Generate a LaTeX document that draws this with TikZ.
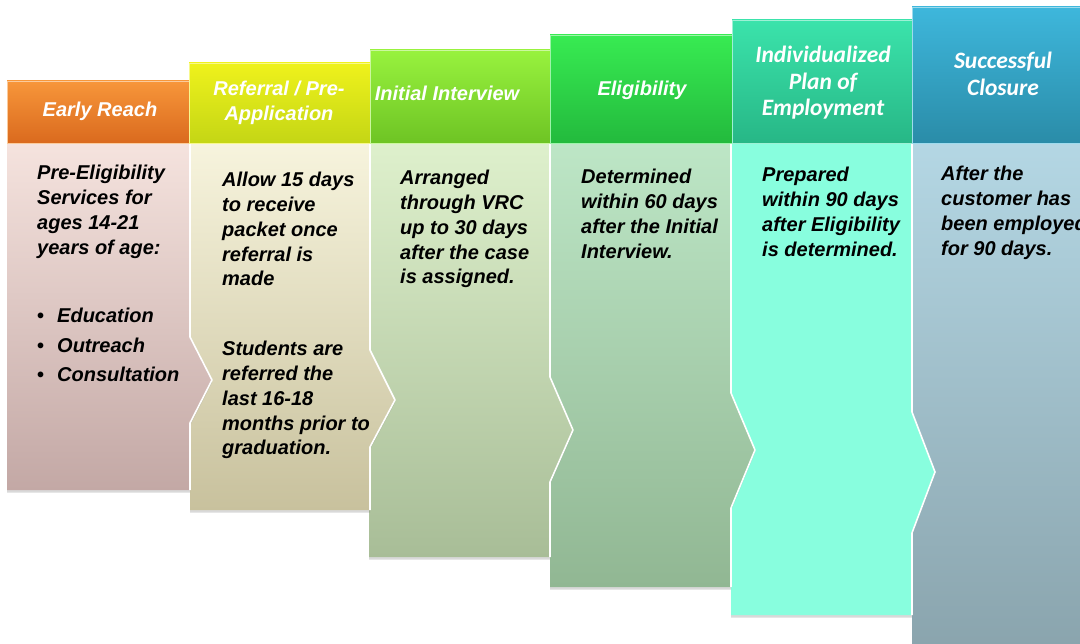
\documentclass[tikz,border=0pt]{standalone}
\usepackage{fontspec}
\usepackage{tikz}
\usepackage{xcolor}
\setmainfont{Liberation Sans}
\newfontfamily\calfont{Carlito}
\usetikzlibrary{shadows}

% header colours (top / bottom)
\definecolor{reachA}{HTML}{F7963A}  \definecolor{reachB}{HTML}{DA6A1E}
\definecolor{referA}{HTML}{EFF21C}  \definecolor{referB}{HTML}{C4D615}
\definecolor{interA}{HTML}{98F23E}  \definecolor{interB}{HTML}{6EC424}
\definecolor{eligA}{HTML}{38EB52}   \definecolor{eligB}{HTML}{23BA3D}
\definecolor{planA}{HTML}{3BE3AB}   \definecolor{planB}{HTML}{27B786}
\definecolor{closeA}{HTML}{3EB7DC}  \definecolor{closeB}{HTML}{2A8CA8}
% body colours (top / bottom)
\definecolor{reachC}{HTML}{F5E3DE}  \definecolor{reachD}{HTML}{C3A8A5}
\definecolor{referC}{HTML}{F7F4DD}  \definecolor{referD}{HTML}{C8C19D}
\definecolor{interC}{HTML}{DEF0CC}  \definecolor{interD}{HTML}{A8BD97}
\definecolor{eligC}{HTML}{BDE6C6}   \definecolor{eligD}{HTML}{91B793}
\definecolor{planC}{HTML}{88FEDE}
\definecolor{closeC}{HTML}{B4D7E4}  \definecolor{closeD}{HTML}{89A3AC}

\newcommand{\listdot}{\makebox[20pt][l]{\upshape\textbullet}}

\begin{document}
\begin{tikzpicture}[x=1pt, y=-1pt,
    headbox/.style={line width=0.8pt, drop shadow={opacity=0.25, shadow xshift=1pt, shadow yshift=-1.5pt}},
    bodybox/.style={drop shadow={opacity=0.3, shadow xshift=0pt, shadow yshift=-2.5pt}},
    rim/.style={white, line width=1.6pt, line join=round},
    headtext/.style={text=white, font=\bfseries\itshape\fontsize{20}{25}\selectfont, align=center, inner sep=0pt, anchor=north},
    bodytext/.style={text=black, font=\bfseries\itshape\fontsize{20}{24.8}\selectfont, align=left, inner sep=0pt, anchor=north west}]
    \useasboundingbox (0,0) rectangle (1080,644);
    \clip (0,0) rectangle (1080,644);

    % Bodies, last step first so each chevron lies over the next one
    \path[bodybox, top color=closeC, bottom color=closeD] (912,143) -- (1090,143) -- (1090,660) -- (912,660) -- cycle;

    \path[bodybox, fill=planC] (731,143) -- (912,143) -- (912,412) -- (935,472) -- (912,533) -- (912,615) -- (731,615) -- cycle;
    \draw[rim] (912,143) -- (912,412) -- (935,472) -- (912,533) -- (912,615);

    \path[bodybox, top color=eligC, bottom color=eligD] (550,143) -- (731,143) -- (731,393) -- (755,450) -- (731,508) -- (731,587) -- (550,587) -- cycle;
    \draw[rim] (731,143) -- (731,393) -- (755,450) -- (731,508) -- (731,587);

    \path[bodybox, top color=interC, bottom color=interD] (369,143) -- (550,143) -- (550,377) -- (573,430) -- (550,482) -- (550,557) -- (369,557) -- cycle;
    \draw[rim] (550,143) -- (550,377) -- (573,430) -- (550,482) -- (550,557);

    \path[bodybox, top color=referC, bottom color=referD] (190,143) -- (370,143) -- (370,350) -- (395,400) -- (370,447) -- (370,510) -- (190,510) -- cycle;
    \draw[rim] (370,143) -- (370,350) -- (395,400) -- (370,447) -- (370,510);

    \path[bodybox, top color=reachC, bottom color=reachD] (7,143) -- (190,143) -- (190,337) -- (212,380) -- (190,423) -- (190,490) -- (7,490) -- cycle;
    \draw[rim] (190,143) -- (190,337) -- (212,380) -- (190,423) -- (190,490);

    % Headers, a step higher each time
    \path[headbox, top color=reachA, bottom color=reachB, draw=reachA!50!white] (7,81) rectangle (190,143);
    \path[headbox, top color=referA, bottom color=referB, draw=referA!50!white] (189,63) rectangle (370,143);
    \path[headbox, top color=interA, bottom color=interB, draw=interA!50!white] (370,50) rectangle (550,143);
    \path[headbox, top color=eligA, bottom color=eligB, draw=eligA!50!white] (550,35) rectangle (732,143);
    \path[headbox, top color=planA, bottom color=planB, draw=planA!50!white] (732,20) rectangle (912,143);
    \path[headbox, top color=closeA, bottom color=closeB, draw=closeA!50!white] (912,7) rectangle (1100,143);

    % Step titles
    \node[headtext] (reach) at (100,102) {Early Reach};
    \node[headtext] (referral) at (279,81) {Referral / Pre-\\Application};
    \node[headtext] (interview) at (447,86) {Initial Interview};
    \node[headtext] (eligibility) at (642,81) {Eligibility};
    \node[headtext, font=\calfont\bfseries\itshape\fontsize{23.5}{26.5}\selectfont] (plan) at (823,46) {Individualized\\Plan of\\Employment};
    \node[headtext, font=\calfont\bfseries\itshape\fontsize{23.5}{26.5}\selectfont] (closure) at (1003,52) {Successful\\Closure};

    % Step texts
    \node[bodytext] (reachtxt) at (37,165) {Pre-Eligibility\\Services for\\ages 14-21\\years of age:};
    \node[bodytext, font=\bfseries\itshape\fontsize{20}{29.6}\selectfont] (reachlist) at (37,308) {\listdot Education\\\listdot Outreach\\\listdot Consultation};
    \node[bodytext] (refertxt) at (222,172) {Allow 15 days\\to receive\\packet once\\referral is\\made};
    \node[bodytext] (referstud) at (222,341) {Students are\\referred the\\last 16-18\\months prior to\\graduation.};
    \node[bodytext] (intertxt) at (400,170) {Arranged\\through VRC\\up to 30 days\\after the case\\is assigned.};
    \node[bodytext] (eligtxt) at (581,169) {Determined\\within 60 days\\after the Initial\\Interview.};
    \node[bodytext] (plantxt) at (762,167) {Prepared\\within 90 days\\after Eligibility\\is determined.};
    \node[bodytext] (closetxt) at (941,166) {After the\\customer has\\been employed\\for 90 days.};
\end{tikzpicture}
\end{document}
